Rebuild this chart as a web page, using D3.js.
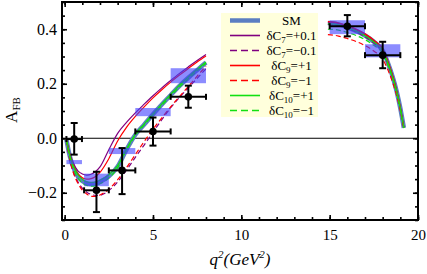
<!DOCTYPE html>
<html><head><meta charset="utf-8">
<script src="https://cdn.jsdelivr.net/npm/d3@7"></script>
<style>body{margin:0;background:#fff}svg{display:block}</style>
</head><body><svg id="c" width="427" height="274"></svg>
<script>
// ---- data ----
const qLow = [0.1, 0.3, 0.5, 0.75, 1.0, 1.25, 1.5, 1.75, 2.0, 2.5, 3.0, 3.5, 4.0, 4.5, 5.0, 5.5, 6.0, 6.5, 7.0, 7.5, 8.0];
const smLow   = [-0.005,-0.068,-0.108,-0.140,-0.157,-0.166,-0.169,-0.167,-0.160,-0.140,-0.104,-0.042,0.013,0.050,0.088,0.124,0.158,0.192,0.222,0.250,0.278];
const c7pLow  = [-0.003,-0.058,-0.093,-0.120,-0.131,-0.135,-0.132,-0.122,-0.105,-0.042,0.018,0.058,0.093,0.125,0.156,0.185,0.212,0.238,0.262,0.285,0.307];
const c7mLow  = [-0.007,-0.080,-0.125,-0.160,-0.183,-0.198,-0.206,-0.210,-0.209,-0.192,-0.160,-0.117,-0.070,-0.025,0.022,0.068,0.112,0.150,0.185,0.220,0.255];
const c9pLow  = [-0.004,-0.063,-0.100,-0.130,-0.145,-0.150,-0.148,-0.140,-0.125,-0.075,-0.010,0.040,0.080,0.115,0.148,0.178,0.206,0.232,0.256,0.280,0.302];
const c9mLow  = [-0.007,-0.080,-0.128,-0.165,-0.190,-0.205,-0.213,-0.213,-0.208,-0.187,-0.152,-0.108,-0.060,-0.012,0.033,0.075,0.115,0.153,0.190,0.228,0.265];
const c10pLow = [-0.004,-0.064,-0.103,-0.134,-0.151,-0.160,-0.162,-0.160,-0.154,-0.134,-0.100,-0.040,0.015,0.052,0.090,0.126,0.161,0.195,0.225,0.253,0.280];
const c10mLow = [-0.006,-0.072,-0.113,-0.146,-0.164,-0.173,-0.176,-0.174,-0.167,-0.146,-0.108,-0.043,0.010,0.048,0.085,0.120,0.155,0.188,0.218,0.247,0.275];

const qHigh = [14.9, 15.25, 15.5, 16.0, 16.5, 17.0, 17.5, 18.0, 18.3, 18.6, 18.8, 19.0, 19.1, 19.2];
const smHigh   = [0.423,0.421,0.418,0.407,0.394,0.377,0.354,0.322,0.276,0.218,0.170,0.110,0.075,0.038];
const c7pHigh  = [0.426,0.424,0.421,0.411,0.398,0.381,0.358,0.326,0.280,0.222,0.174,0.114,0.078,0.040];
const c7mHigh  = [0.418,0.417,0.414,0.403,0.390,0.372,0.349,0.317,0.271,0.213,0.166,0.106,0.072,0.036];
const c9pHigh  = [0.428,0.426,0.423,0.413,0.400,0.383,0.360,0.327,0.281,0.222,0.173,0.112,0.077,0.039];
const c9mHigh  = [0.380,0.378,0.375,0.366,0.355,0.340,0.320,0.290,0.250,0.198,0.155,0.100,0.068,0.034];
const c10pHigh = [0.420,0.419,0.416,0.406,0.393,0.376,0.353,0.321,0.275,0.217,0.170,0.110,0.075,0.038];
const c10mHigh = [0.400,0.399,0.397,0.388,0.377,0.362,0.341,0.311,0.268,0.212,0.166,0.107,0.073,0.037];

const seriesNames = ["SM", "dC7+", "dC7-", "dC9+", "dC9-", "dC10+", "dC10-"];
const lowSeries  = [smLow, c7pLow, c7mLow, c9pLow, c9mLow, c10pLow, c10mLow];
const highSeries = [smHigh, c7pHigh, c7mHigh, c9pHigh, c9mHigh, c10pHigh, c10mHigh];
const legendSub  = ["", "7", "7", "9", "9", "10", "10"];
const legendVal  = ["", "=+0.1", "=\u22120.1", "=+1", "=\u22121", "=+1", "=\u22121"];
const colors = ["#5b7ec2", "#800080", "#800080", "#ff0000", "#ff0000", "#11e011", "#11e011"];
const dashed = [false, false, true, false, true, false, true];

const binLo = [0.1, 1.1, 2.5, 4.0, 6.0, 15.0, 17.0];
const binHi = [0.98, 2.5, 4.0, 6.0, 8.0, 17.0, 19.0];
const predLo = [-0.095, -0.176, -0.058, 0.081, 0.202, 0.382, 0.297];
const predHi = [-0.080, -0.130, -0.036, 0.111, 0.257, 0.433, 0.345];

const dataQ  = [0.54, 1.8, 3.25, 5.0, 7.0, 16.0, 18.0];
const dataA  = [-0.003, -0.191, -0.118, 0.025, 0.152, 0.411, 0.305];
const errUp  = [0.059, 0.068, 0.082, 0.051, 0.041, 0.041, 0.049];
const errDn  = [0.057, 0.080, 0.087, 0.052, 0.040, 0.037, 0.048];

const xMajor = [0, 5, 10, 15, 20];
const xMinor = d3.range(0, 21, 1);
const yMajor = [-0.2, 0.0, 0.2, 0.4];
const yMinor = d3.range(-0.3, 0.5001, 0.05);

// ---- layout ----
const L = 62, R = 418, T = 2, B = 220;
const font = "'Liberation Serif','Times New Roman',serif";
const svg = d3.select("#c");
const x = d3.scaleLinear().domain([-0.15, 20]).range([L, R]);
const y = d3.scaleLinear().domain([-0.3, 0.5]).range([B, T]);

const plot = svg.append("g");
plot.append("clipPath").attr("id", "clip").append("rect")
  .attr("x", L).attr("y", T).attr("width", R - L).attr("height", B - T);
const inner = plot.append("g").attr("clip-path", "url(#clip)");

// zero line
inner.append("line").attr("x1", L).attr("x2", R).attr("y1", y(0)).attr("y2", y(0))
  .attr("stroke", "#000").attr("stroke-width", 1);

const line = d3.line().curve(d3.curveMonotoneX);
function drawSeries(qs, vals, i) {
  const pts = qs.map((q, k) => [x(q), y(vals[k])]);
  inner.append("path").attr("d", line(pts)).attr("fill", "none")
    .attr("stroke", colors[i])
    .attr("stroke-width", i === 0 ? 4.5 : 1.2)
    .attr("stroke-dasharray", dashed[i] ? "5,3" : null);
}
lowSeries.forEach((s, i) => drawSeries(qLow, s, i));
highSeries.forEach((s, i) => drawSeries(qHigh, s, i));

// prediction boxes
binLo.forEach((b, i) => {
  inner.append("rect")
    .attr("x", x(b)).attr("width", x(binHi[i]) - x(b))
    .attr("y", y(predHi[i])).attr("height", y(predLo[i]) - y(predHi[i]))
    .attr("fill", "#4040ff").attr("fill-opacity", 0.6);
});

// data points with error bars
const eb = inner.append("g").attr("stroke", "#000").attr("stroke-width", 2);
dataQ.forEach((q, i) => {
  const cx = x(q), cy = y(dataA[i]);
  const x0 = x(binLo[i]), x1 = x(binHi[i]);
  const y0 = y(dataA[i] + errUp[i]), y1 = y(dataA[i] - errDn[i]);
  eb.append("line").attr("x1", x0).attr("x2", x1).attr("y1", cy).attr("y2", cy);
  eb.append("line").attr("x1", x0).attr("x2", x0).attr("y1", cy - 3).attr("y2", cy + 3);
  eb.append("line").attr("x1", x1).attr("x2", x1).attr("y1", cy - 3).attr("y2", cy + 3);
  eb.append("line").attr("x1", cx).attr("x2", cx).attr("y1", y0).attr("y2", y1);
  eb.append("line").attr("x1", cx - 3.5).attr("x2", cx + 3.5).attr("y1", y0).attr("y2", y0);
  eb.append("line").attr("x1", cx - 3.5).attr("x2", cx + 3.5).attr("y1", y1).attr("y2", y1);
  inner.append("circle").attr("cx", cx).attr("cy", cy).attr("r", 3.8).attr("fill", "#000");
});

// ---- axes (ticks inward on all four sides) ----
function styleAxis(g) {
  g.select(".domain").remove();
  g.selectAll(".tick line").attr("stroke", "#000").attr("stroke-width", 1.6);
  g.selectAll("text").attr("font-family", font).attr("fill", "#000");
}
const fx = d3.format("d"), fy = d3.format(".1f");
svg.append("g").attr("transform", `translate(0,${B})`)
  .call(d3.axisBottom(x).tickValues(xMinor).tickSize(-3).tickFormat("")).call(styleAxis);
svg.append("g").attr("transform", `translate(0,${B})`)
  .call(d3.axisBottom(x).tickValues(xMajor).tickSize(-5).tickPadding(9).tickFormat(fx))
  .call(styleAxis).call(g => g.selectAll("text").attr("font-size", 15));
svg.append("g").attr("transform", `translate(0,${T})`)
  .call(d3.axisTop(x).tickValues(xMinor).tickSize(-3).tickFormat("")).call(styleAxis);
svg.append("g").attr("transform", `translate(0,${T})`)
  .call(d3.axisTop(x).tickValues(xMajor).tickSize(-5).tickFormat("")).call(styleAxis);
svg.append("g").attr("transform", `translate(${L},0)`)
  .call(d3.axisLeft(y).tickValues(yMinor).tickSize(-3).tickFormat("")).call(styleAxis);
svg.append("g").attr("transform", `translate(${L},0)`)
  .call(d3.axisLeft(y).tickValues(yMajor).tickSize(-5).tickPadding(5).tickFormat(fy))
  .call(styleAxis).call(g => g.selectAll("text").attr("font-size", 16));
svg.append("g").attr("transform", `translate(${R},0)`)
  .call(d3.axisRight(y).tickValues(yMinor).tickSize(-3).tickFormat("")).call(styleAxis);
svg.append("g").attr("transform", `translate(${R},0)`)
  .call(d3.axisRight(y).tickValues(yMajor).tickSize(-5).tickFormat("")).call(styleAxis);

// frame
svg.append("rect").attr("x", L).attr("y", T).attr("width", R - L).attr("height", B - T)
  .attr("fill", "none").attr("stroke", "#000").attr("stroke-width", 2);

// axis labels
const yl = svg.append("text").attr("transform", "translate(17,110) rotate(-90)")
  .attr("text-anchor", "middle").attr("font-family", font).attr("font-size", 17);
yl.append("tspan").text("A");
yl.append("tspan").attr("font-size", 11).attr("dy", 3).text("FB");

const xl = svg.append("text").attr("x", 240).attr("y", 265)
  .attr("text-anchor", "middle").attr("font-family", font).attr("font-size", 17)
  .attr("font-style", "italic");
xl.append("tspan").text("q");
xl.append("tspan").attr("font-size", 11).attr("dy", -7).text("2");
xl.append("tspan").attr("dy", 7).text("(GeV");
xl.append("tspan").attr("font-size", 11).attr("dy", -7).text("2");
xl.append("tspan").attr("dy", 7).text(")");

// legend
const lg = svg.append("g");
lg.append("rect").attr("x", 221).attr("y", 13).attr("width", 97).attr("height", 104)
  .attr("fill", "#ffffdc");
seriesNames.forEach((n, i) => {
  const ry = 20.5 + i * 15;
  lg.append("line").attr("x1", 230).attr("x2", 260).attr("y1", ry).attr("y2", ry)
    .attr("stroke", colors[i]).attr("stroke-width", i === 0 ? 4.5 : 1.6)
    .attr("stroke-dasharray", dashed[i] ? "7,4" : null);
  const t = lg.append("text").attr("x", 291.5).attr("y", ry + 4.5)
    .attr("text-anchor", "middle").attr("font-family", font).attr("font-size", 13);
  if (i === 0) { t.text("SM"); }
  else {
    t.append("tspan").text("\u03b4C");
    t.append("tspan").attr("font-size", 9).attr("dy", 2.5).text(legendSub[i]);
    t.append("tspan").attr("dy", -2.5).text(legendVal[i]);
  }
});
</script></body></html>
